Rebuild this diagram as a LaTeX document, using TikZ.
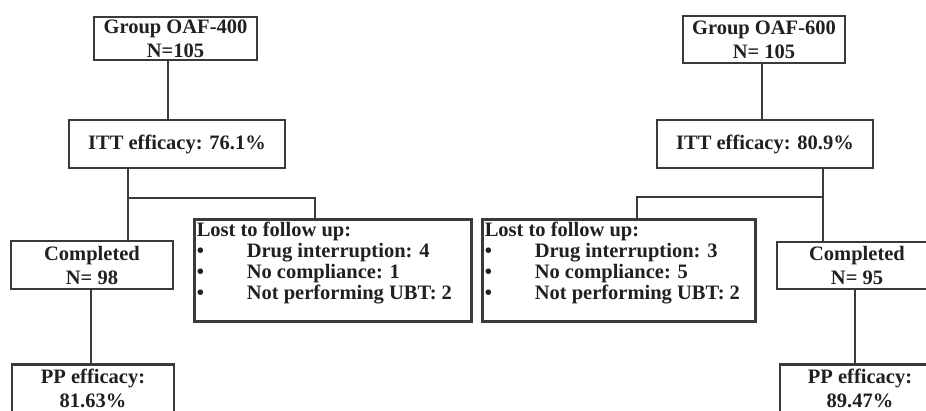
\documentclass[tikz,border=0pt]{standalone}
\usepackage{fontspec}
\setmainfont{Liberation Serif}
\usetikzlibrary{calc}
\definecolor{inkgray}{HTML}{231F20}
\definecolor{rulegray}{HTML}{3A3A3A}
\tikzstyle{flowbox}=[draw=rulegray, line width=2.6pt, inner sep=0pt, align=center, text=inkgray, font=\bfseries\fontsize{20.5}{24}\selectfont]
\tikzstyle{lostbox}=[flowbox, inner xsep=2.5pt, inner ysep=3pt, font=\bfseries\fontsize{20.5}{21}\selectfont]
\tikzstyle{flowline}=[draw=rulegray, line width=1.3pt]
\newcommand{\lostitem}[1]{\makebox[50pt][l]{\textbullet}#1}
\newcommand{\lostlist}[2]{\parbox[c][96pt][t]{#1}{\raggedright #2}}

\begin{document}
\begin{tikzpicture}[x=1pt, y=-1pt]
	\useasboundingbox (0,0) rectangle (926,411);
	\clip (0,0) rectangle (926,411);
	\node[flowbox, minimum width=163pt, minimum height=43pt] (grpA) at (175.5,38.5) {Group OAF-400\\N=105};
	\node[flowbox, minimum width=216pt, minimum height=48pt] (ittA) at (177,144) {ITT efficacy: 76.1\%};
	\node[flowbox, minimum width=162pt, minimum height=48pt] (compA) at (92,265) {Completed\\N= 98};
	\node[lostbox, anchor=north west] (lostA) at (193,218) {\lostlist{272pt}{Lost to follow up:\\\lostitem{Drug interruption: 4}\\\lostitem{No compliance: 1}\\\lostitem{Not performing UBT: 2}}};
	\node[flowbox, minimum width=162pt, minimum height=48pt, anchor=north] (ppA) at (93,363) {PP efficacy:\\81.63\%};
	\coordinate (kA) at (168,0);
	\coordinate (sA) at (128,198);
	\coordinate (rA) at (315,198);
	\coordinate (pA) at (91,0);
	\draw[flowline] (grpA.south -| kA) -- (ittA.north -| kA);
	\draw[flowline] (ittA.south -| sA) -- (compA.north -| sA);
	\draw[flowline] (sA) -- (rA) -- (lostA.north -| rA);
	\draw[flowline] (compA.south -| pA) -- (ppA.north -| pA);
	\node[flowbox, minimum width=162pt, minimum height=47pt] (grpB) at (764,39.5) {Group OAF-600\\N= 105};
	\node[flowbox, minimum width=216pt, minimum height=48pt] (ittB) at (765,144) {ITT efficacy: 80.9\%};
	\node[lostbox, anchor=north west] (lostB) at (481,218) {\lostlist{268pt}{Lost to follow up:\\\lostitem{Drug interruption: 3}\\\lostitem{No compliance: 5}\\\lostitem{Not performing UBT: 2}}};
	\node[flowbox, minimum width=160pt, minimum height=47pt] (compB) at (857,265.5) {Completed\\N= 95};
	\node[flowbox, minimum width=160pt, minimum height=48pt, anchor=north] (ppB) at (860,363) {PP efficacy:\\89.47\%};
	\coordinate (kB) at (762,0);
	\coordinate (sB) at (823,197);
	\coordinate (rB) at (637,197);
	\coordinate (pB) at (855,0);
	\draw[flowline] (grpB.south -| kB) -- (ittB.north -| kB);
	\draw[flowline] (ittB.south -| sB) -- (compB.north -| sB);
	\draw[flowline] (sB) -- (rB) -- (lostB.north -| rB);
	\draw[flowline] (compB.south -| pB) -- (ppB.north -| pB);
\end{tikzpicture}
\end{document}
